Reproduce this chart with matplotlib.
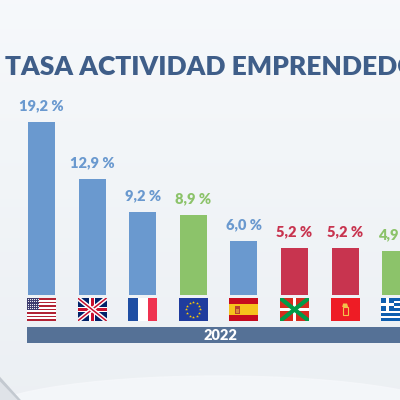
import matplotlib
matplotlib.use("Agg")
import matplotlib.pyplot as plt
import numpy as np
from matplotlib.patches import Rectangle, Polygon, Ellipse

countries = ["EE. UU.", "Reino Unido", "Francia", "UE", "España", "Euskadi", "Navarra", "Grecia"]
flags = ["us", "uk", "fr", "eu", "es", "eus", "nav", "gr"]
values = [19.2, 12.9, 9.2, 8.9, 6.0, 5.2, 5.2, 4.9]
groups = ["int", "int", "int", "eu", "int", "reg", "reg", "eu"]
year_label = "2022"
title = "TASA ACTIVIDAD EMPRENDEDORA"

colors = {"int": "#6a99cf", "eu": "#8cc36a", "reg": "#c8344f"}

FONT = ["Lato", "DejaVu Sans"]

fig = plt.figure(figsize=(4, 4), dpi=100)
fig.patch.set_facecolor("#eef2f6")
ax = fig.add_axes([0, 0, 1, 1])
ax.set_xlim(-0.82, 7.085)
ax.set_ylim(-11.667, 32.78)
ax.axis("off")

# background gradient
grad = np.linspace(0, 1, 256).reshape(-1, 1)
bg = np.zeros((256, 1, 3))
top = np.array([0.965, 0.975, 0.985])
mid = np.array([0.925, 0.940, 0.955])
for k in range(3):
    bg[:, 0, k] = top[k] * (1 - grad[:, 0]) + mid[k] * grad[:, 0]
ax.imshow(bg, extent=[-0.82, 7.085, -11.667, 32.78], aspect="auto", zorder=0, origin="upper")
ax.add_patch(Ellipse((3.5, -13.5), 9.5, 9.0, color="#f6f8fb", zorder=0.5, alpha=0.8))
ax.add_patch(Polygon([[-0.82, -9.1], [-0.41, -11.667], [-0.82, -11.667]], closed=True,
                     color="#dfe3e8", zorder=0.6, lw=0))
ax.add_patch(Polygon([[-0.82, -9.1], [-0.41, -11.667], [-0.47, -11.667], [-0.82, -9.6]],
                     closed=True, color="#c3c9d0", zorder=0.7, lw=0))

x = np.arange(len(values))
bar_colors = [colors[g] for g in groups]
ax.bar(x, values, width=0.534, color=bar_colors, zorder=2)

for i, v in enumerate(values):
    ax.text(i, v + 1.1, f"{v:.1f} %".replace(".", ","), ha="center", va="bottom",
            fontsize=10.5, fontweight="heavy", color=bar_colors[i], family=FONT, zorder=3)


def draw_flag(fa, kind):
    W, H = 29, 23
    fa.set_xlim(0, W)
    fa.set_ylim(0, H)
    fa.axis("off")
    R = lambda x0, y0, w, h, c: fa.add_patch(Rectangle((x0, y0), w, h, color=c, lw=0))
    if kind == "us":
        for s in range(13):
            R(0, H - (s + 1) * H / 13, W, H / 13, "#b22234" if s % 2 == 0 else "white")
        R(0, H - 7 * H / 13, W * 0.42, 7 * H / 13, "#3c3b6e")
        for r in range(5):
            for c in range(6):
                fa.plot(0.9 + c * 2.0, H - 1.1 - r * 2.3, "o", ms=0.8, color="white", mew=0)
    elif kind == "uk":
        R(0, 0, W, H, "#012169")
        for (a, b) in [((0, 0), (W, H)), ((0, H), (W, 0))]:
            fa.plot([a[0], b[0]], [a[1], b[1]], color="white", lw=3.2, solid_capstyle="butt")
            fa.plot([a[0], b[0]], [a[1], b[1]], color="#c8102e", lw=1.1, solid_capstyle="butt")
        R(W / 2 - 2.6, 0, 5.2, H, "white")
        R(0, H / 2 - 2.6, W, 5.2, "white")
        R(W / 2 - 1.5, 0, 3.0, H, "#c8102e")
        R(0, H / 2 - 1.5, W, 3.0, "#c8102e")
    elif kind == "fr":
        R(0, 0, W / 3, H, "#1f4ea3")
        R(W / 3, 0, W / 3, H, "white")
        R(2 * W / 3, 0, W / 3, H, "#ef3350")
    elif kind == "eu":
        R(0, 0, W, H, "#1f3c9e")
        for k in range(12):
            a = 2 * np.pi * k / 12
            fa.plot(W / 2 + 7 * np.cos(a), H / 2 + 7 * np.sin(a), "*", ms=2.2,
                    color="#ffcc00", mew=0)
    elif kind == "es":
        R(0, 0, W, H, "#c60b1e")
        R(0, H / 4, W, H / 2, "#f6c21c")
        R(6, 7, 4.5, 8, "#b9412f")
        R(6.8, 8, 3, 4, "#d9893a")
    elif kind == "eus":
        R(0, 0, W, H, "#d52b1e")
        for (a, b) in [((0, 0), (W, H)), ((0, H), (W, 0))]:
            fa.plot([a[0], b[0]], [a[1], b[1]], color="#009b48", lw=3.0, solid_capstyle="butt")
        R(W / 2 - 1.6, 0, 3.2, H, "white")
        R(0, H / 2 - 1.6, W, 3.2, "white")
    elif kind == "nav":
        R(0, 0, W, H, "#ee1c25")
        fa.add_patch(Rectangle((12, 6), 5, 8, fill=False, ec="#f3c24b", lw=0.8))
        fa.add_patch(Polygon([[11.5, 14], [17.5, 14], [16.5, 17.5], [12.5, 17.5]],
                             closed=True, color="#f3c24b", lw=0))
    elif kind == "gr":
        for s in range(9):
            R(0, H - (s + 1) * H / 9, W, H / 9, "#0d5eaf" if s % 2 == 0 else "white")
        R(0, H - 5 * H / 9, 5 * H / 9, 5 * H / 9, "#0d5eaf")
        R(0, H - 3 * H / 9, 5 * H / 9, H / 9, "white")
        R(2 * H / 9, H - 5 * H / 9, H / 9, 5 * H / 9, "white")


fw, fy0, fh = 0.573, -2.89, 2.56
for i, kind in enumerate(flags):
    fa = ax.inset_axes([i - fw / 2, fy0, fw, fh], transform=ax.transData, zorder=3)
    draw_flag(fa, kind)

# year band
ax.add_patch(Rectangle((-0.28, -5.33), 8.0, 1.77, color="#557196", lw=0, zorder=2))
ax.text(3.53, -4.45, year_label, ha="center", va="center", fontsize=10.5,
        fontweight="heavy", color="white", family=FONT, zorder=3)

fig.text(5 / 400, 1 - 67 / 400, title, ha="left", va="center", fontsize=19,
         fontweight="heavy", color="#3f5e89", family=FONT)

fig.savefig("out.png", dpi=100)
